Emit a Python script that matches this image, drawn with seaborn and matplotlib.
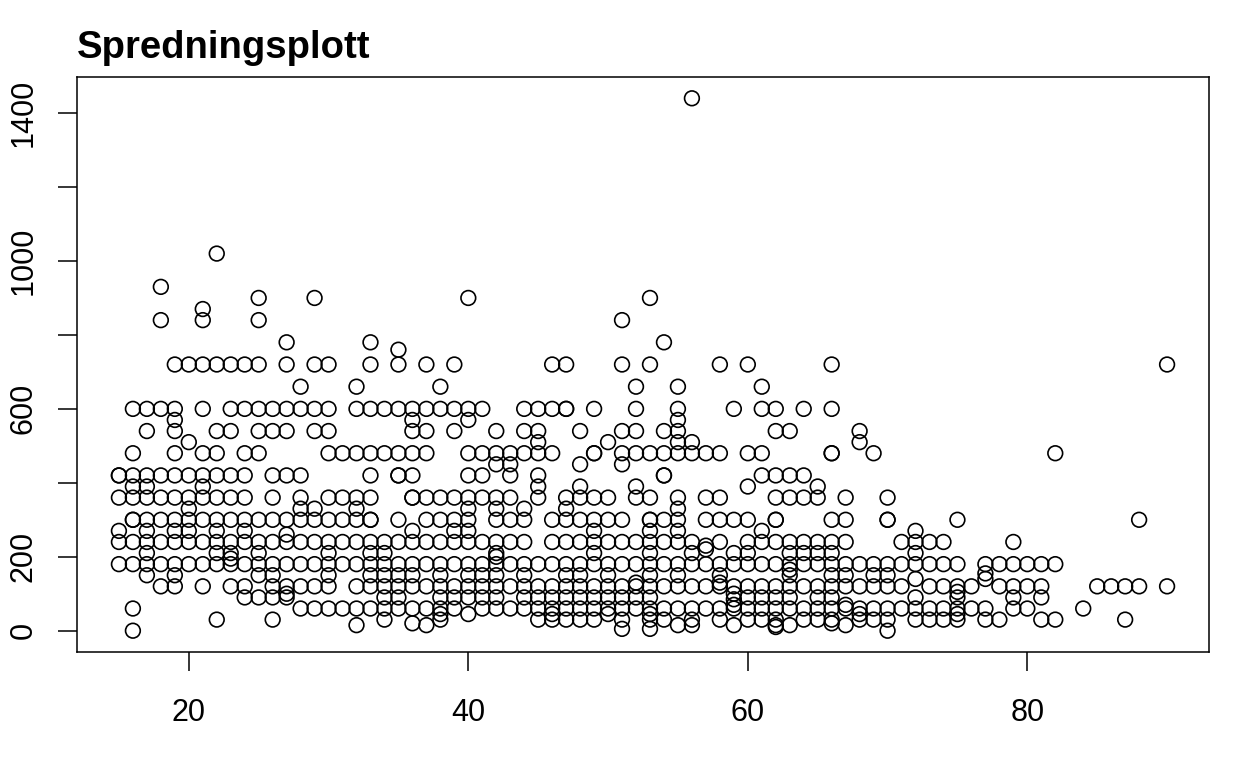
import pandas as pd
import seaborn as sns
import matplotlib.pyplot as plt

ages = [15, 16, 17, 18, 19, 20, 21, 22, 23, 24, 25, 26, 27, 28, 29, 30,
        31, 32, 33, 34, 35, 36, 37, 38, 39, 40, 41, 42, 43, 44, 45, 46,
        47, 48, 49, 50, 51, 52, 53, 54, 55, 56, 57, 58, 59, 60, 61, 62,
        63, 64, 65, 66, 67, 68, 69, 70, 71, 72, 73, 74, 75, 76, 77, 78,
        79, 80, 81, 82, 84, 85, 86, 87, 88, 90]
values = [
    [180, 240, 270, 360, 420, 420],
    [0, 60, 180, 240, 300, 300, 360, 390, 420, 480, 600],
    [150, 180, 210, 240, 270, 300, 360, 390, 420, 540, 600],
    [120, 180, 240, 300, 360, 420, 600, 840, 930],
    [120, 150, 180, 240, 270, 300, 360, 420, 480, 540, 570, 600, 720],
    [180, 240, 270, 300, 330, 360, 420, 510, 720],
    [120, 180, 240, 300, 360, 390, 420, 480, 600, 720, 840, 870],
    [30, 180, 210, 240, 270, 300, 360, 420, 480, 540, 720, 1020],
    [120, 180, 195, 210, 240, 300, 360, 420, 540, 600, 720],
    [90, 120, 180, 240, 270, 300, 360, 420, 480, 600, 720],
    [90, 150, 180, 210, 240, 300, 480, 540, 600, 720, 840, 900],
    [30, 90, 120, 150, 180, 240, 300, 360, 420, 540, 600],
    [90, 100, 120, 180, 240, 260, 300, 420, 540, 600, 720, 780],
    [60, 120, 180, 240, 300, 330, 360, 420, 600, 660],
    [60, 120, 180, 240, 300, 330, 540, 600, 720, 900],
    [60, 120, 150, 180, 210, 240, 300, 360, 480, 540, 600, 720],
    [60, 180, 240, 300, 360, 480],
    [15, 60, 120, 180, 240, 300, 330, 360, 480, 600, 660],
    [60, 120, 150, 180, 210, 240, 300, 300, 360, 420, 480, 600, 720, 780],
    [30, 60, 90, 120, 150, 180, 210, 240, 480, 600],
    [60, 90, 120, 150, 180, 240, 300, 420, 420, 480, 600, 720, 760],
    [20, 60, 120, 150, 180, 240, 270, 360, 360, 420, 480, 540, 570, 600],
    [15, 60, 120, 180, 240, 300, 360, 480, 540, 600, 720],
    [30, 45, 60, 90, 120, 150, 180, 240, 300, 360, 600, 660],
    [60, 90, 120, 180, 240, 270, 300, 360, 540, 600, 720],
    [45, 90, 120, 150, 180, 240, 270, 300, 330, 360, 420, 480, 570, 600, 900],
    [60, 90, 120, 150, 180, 240, 360, 420, 480, 600],
    [60, 90, 120, 150, 180, 200, 210, 240, 300, 330, 360, 450, 480, 540],
    [60, 120, 180, 240, 300, 360, 420, 450, 480],
    [60, 90, 120, 150, 180, 240, 300, 330, 480, 540, 600],
    [30, 60, 90, 120, 180, 360, 390, 420, 480, 510, 540, 600],
    [30, 45, 60, 90, 120, 180, 240, 300, 480, 600, 720],
    [30, 60, 90, 120, 150, 180, 240, 300, 330, 360, 600, 600, 720],
    [30, 60, 90, 120, 150, 180, 240, 300, 360, 390, 450, 540],
    [30, 60, 90, 120, 180, 210, 240, 270, 300, 360, 480, 480, 600],
    [45, 60, 90, 120, 150, 180, 240, 300, 360, 510],
    [5, 30, 60, 90, 120, 180, 240, 300, 450, 480, 540, 720, 840],
    [60, 90, 120, 130, 180, 240, 360, 390, 480, 540, 600, 660],
    [5, 30, 45, 60, 90, 120, 150, 180, 210, 240, 270, 300, 300, 360, 480, 720, 900],
    [30, 60, 120, 180, 240, 300, 420, 420, 480, 540, 780],
    [15, 60, 120, 150, 180, 240, 270, 300, 330, 360, 480, 510, 540, 570, 600, 660],
    [15, 30, 60, 120, 180, 210, 240, 480, 510, 1440],
    [60, 120, 180, 220, 230, 300, 360, 480],
    [30, 60, 120, 130, 150, 180, 240, 300, 360, 480, 720],
    [15, 60, 70, 85, 100, 120, 180, 210, 300, 600],
    [30, 60, 90, 120, 180, 210, 240, 300, 390, 480, 720],
    [30, 60, 90, 120, 180, 240, 270, 420, 480, 600, 660],
    [10, 15, 30, 60, 90, 120, 180, 240, 300, 300, 360, 420, 540, 600],
    [15, 60, 90, 120, 150, 165, 180, 210, 240, 360, 420, 540],
    [30, 60, 120, 180, 210, 240, 360, 420, 600],
    [30, 60, 90, 120, 180, 210, 240, 360, 390],
    [20, 30, 60, 90, 120, 150, 180, 210, 240, 300, 480, 480, 600, 720],
    [15, 60, 70, 120, 150, 180, 240, 300, 360],
    [30, 45, 60, 120, 180, 510, 540],
    [30, 60, 120, 150, 180, 480],
    [0, 30, 60, 120, 150, 180, 300, 300, 360],
    [60, 120, 180, 240],
    [30, 60, 90, 140, 180, 210, 240, 270],
    [30, 60, 120, 180, 240],
    [30, 60, 120, 180, 240],
    [30, 45, 60, 90, 105, 120, 180, 300],
    [60, 120],
    [30, 60, 140, 155, 180],
    [30, 120, 180],
    [60, 90, 120, 180, 240],
    [60, 120, 180],
    [30, 90, 120, 180],
    [30, 180, 480],
    [60],
    [120],
    [120],
    [30, 120],
    [120, 300],
    [120, 720],
]
x_ticks = [20, 40, 60, 80]
y_ticks = [0, 200, 400, 600, 800, 1000, 1200, 1400]
y_labels = ['0', '200', '', '600', '', '1000', '', '1400']

sns.set_style("white")
plt.rcParams['font.family'] = ['Liberation Sans', 'DejaVu Sans']

df = pd.DataFrame({
    'alder': [a for a, v in zip(ages, values) for _ in v],
    'verdi': [y for v in values for y in v],
})

fig = plt.figure(figsize=(12.48, 7.68), dpi=100)
ax = fig.add_axes([77 / 1248, 1 - 652 / 768, 1132 / 1248, 575 / 768])
sns.scatterplot(data=df, x='alder', y='verdi', ax=ax, s=112, marker='o',
                facecolors='none', edgecolors='black', linewidth=1.2, clip_on=False)

ax.set_xlim(12, 93)
ax.set_ylim(-57.6, 1497.6)
ax.set_xlabel('')
ax.set_ylabel('')
ax.set_xticks(x_ticks)
ax.set_yticks(y_ticks)
ax.set_yticklabels(y_labels, rotation=90, va='center')
ax.tick_params(axis='both', length=14, width=1.1, labelsize=22, left=True, bottom=True,
               color='black', labelcolor='black')
ax.tick_params(axis='x', pad=19)
ax.tick_params(axis='y', pad=13.5)
for side in ax.spines.values():
    side.set_linewidth(1.1)
    side.set_color('black')
ax.set_title('Spredningsplott', loc='left', fontsize=27.5, fontweight='bold', pad=14, color='black')

plt.savefig('out.png', dpi=100)
plt.close()
